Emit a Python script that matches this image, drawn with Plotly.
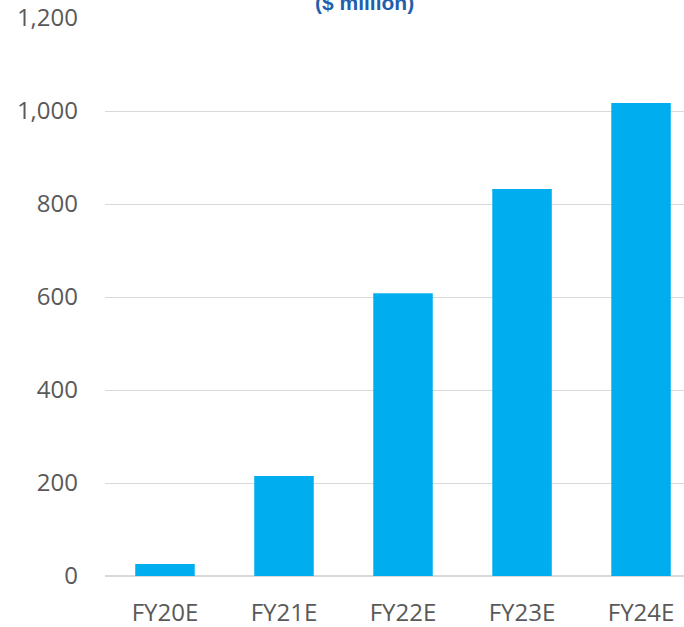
import plotly.graph_objects as go

categories = ["FY20E", "FY21E", "FY22E", "FY23E", "FY24E"]
values = [26, 215, 608, 832, 1017]
y_ticks = [0, 200, 400, 600, 800, 1000, 1200]
y_tick_labels = ["0", "200", "400", "600", "800", "1,000", "1,200"]
title_text = "($ million)"

fig = go.Figure()
fig.add_trace(go.Bar(x=list(range(len(categories))), y=values, marker_color="#00AEEF",
                     marker_line_width=0, width=0.5))

W, H = 684, 627
left, right, top, bottom = 105, 0, 18, 51
ph = H - top - bottom
fig.update_layout(
    width=W, height=H,
    margin=dict(l=left, r=right, t=top, b=bottom, pad=0, autoexpand=False),
    paper_bgcolor="white", plot_bgcolor="white",
    showlegend=False,
    font=dict(family="Open Sans", color="#595959", size=24),
    xaxis=dict(tickmode="array", tickvals=list(range(len(categories))), ticktext=categories,
               range=[-0.504, 4.361], showgrid=False, zeroline=False, showline=False,
               automargin=False,
               ticks="", ticklabelstandoff=20, tickfont=dict(size=24, color="#595959")),
    yaxis=dict(tickmode="array", tickvals=y_ticks, ticktext=y_tick_labels,
               range=[0, 1200], showgrid=True, gridcolor="#D9D9D9", gridwidth=1,
               zeroline=True, zerolinecolor="#D9D9D9", zerolinewidth=2,
               showline=False, ticks="", ticklabelstandoff=26, automargin=False,
               tickfont=dict(size=24, color="#595959")),
    annotations=[dict(text="<b>" + title_text + "</b>", xref="paper", yref="paper",
                      x=(364 - left) / (W - left), y=1 + (top - 16) / ph,
                      xanchor="center", yanchor="bottom", showarrow=False,
                      font=dict(family="Liberation Sans", size=21, color="#1F5FAD"))],
)
fig.write_html("out.html", config={"displayModeBar": False},
               post_script="document.body.style.margin='0';document.body.style.overflow='hidden';")
